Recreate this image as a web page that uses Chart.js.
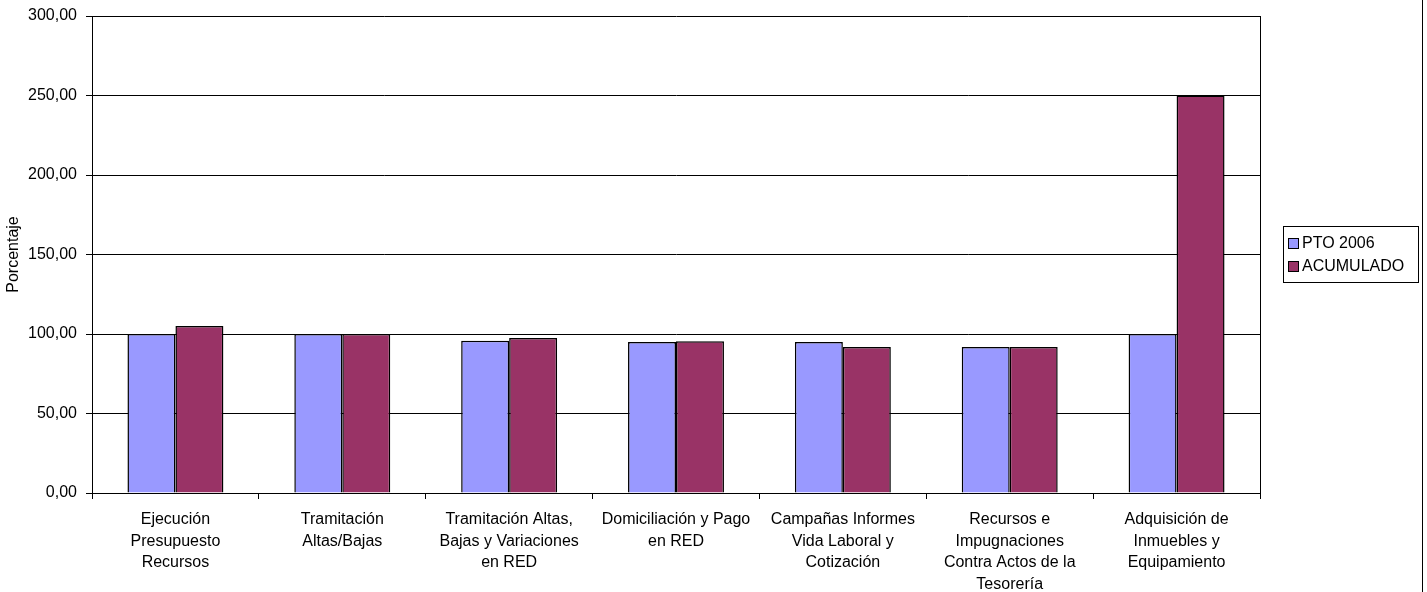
<!DOCTYPE html>
<html>
<head>
<meta charset="utf-8">
<script src="https://cdn.jsdelivr.net/npm/chart.js@4/dist/chart.umd.min.js"></script>
<style>
  html, body { margin: 0; padding: 0; background: #fff; }
  #wrap { width: 1427px; height: 592px; position: relative; }
</style>
</head>
<body>
<div id="wrap"><canvas id="barChart" width="1427" height="592"></canvas></div>
<script>
// Categorías (etiquetas del eje X, en varias líneas)
const categorias = [
    ['Ejecución', 'Presupuesto', 'Recursos'],
    ['Tramitación', 'Altas/Bajas'],
    ['Tramitación Altas,', 'Bajas y Variaciones', 'en RED'],
    ['Domiciliación y Pago', 'en RED'],
    ['Campañas Informes', 'Vida Laboral y', 'Cotización'],
    ['Recursos e', 'Impugnaciones', 'Contra Actos de la', 'Tesorería'],
    ['Adquisición de', 'Inmuebles y', 'Equipamiento']
];

// Series
const pto2006 = [100, 100, 95.8, 95.0, 95.0, 91.8, 100];
const acumulado = [105.0, 100, 97.5, 95.4, 91.8, 91.8, 250];

// Eje Y
const yMin = 0;
const yMax = 300;
const yPaso = 50;

const fuente = "'Liberation Sans', Arial, sans-serif";

// Borde del área de trazado, leyenda y borde del gráfico
const extras = {
    id: 'extras',
    afterDraw(chart) {
        const ctx = chart.ctx;
        const a = chart.chartArea;
        ctx.save();
        ctx.strokeStyle = '#000';
        ctx.lineWidth = 1;
        // borde derecho del área de trazado
        ctx.beginPath();
        ctx.moveTo(Math.round(a.right) + 0.5, a.top);
        ctx.lineTo(Math.round(a.right) + 0.5, a.bottom);
        ctx.stroke();
        // borde del gráfico a la derecha
        ctx.beginPath();
        ctx.moveTo(1422.5, 0);
        ctx.lineTo(1422.5, 592);
        ctx.stroke();

        // leyenda
        ctx.strokeRect(1283.5, 226.5, 135, 56);
        ctx.font = '16px ' + fuente;
        ctx.textBaseline = 'middle';
        chart.data.datasets.forEach((ds, i) => {
            const y = 243 + i * 23;
            ctx.fillStyle = ds.backgroundColor;
            ctx.fillRect(1288, y - 5, 10, 10);
            ctx.strokeRect(1288.5, y - 4.5, 10, 10);
            ctx.fillStyle = '#000';
            ctx.fillText(ds.label, 1302, y + 1);
        });
        ctx.restore();
    }
};

const canvas = document.getElementById('barChart');

new Chart(canvas, {
    type: 'bar',
    data: {
        labels: categorias,
        datasets: [{
            label: 'PTO 2006',
            data: pto2006,
            backgroundColor: '#9999FF',
            borderColor: '#000',
            borderWidth: 1.5
        }, {
            label: 'ACUMULADO',
            data: acumulado,
            backgroundColor: '#993366',
            borderColor: '#000',
            borderWidth: 1.5
        }]
    },
    options: {
        responsive: false,
        animation: false,
        layout: {
            padding: { top: 16, right: 167, left: 0, bottom: 0 }
        },
        datasets: {
            bar: {
                categoryPercentage: 0.575,
                barPercentage: 1.0
            }
        },
        scales: {
            x: {
                offset: true,
                grid: {
                    offset: true,
                    drawOnChartArea: false,
                    drawTicks: true,
                    tickLength: 6,
                    color: '#000'
                },
                border: { display: true, color: '#000' },
                ticks: {
                    color: '#000',
                    padding: 10,
                    maxRotation: 0,
                    autoSkip: false,
                    font: { family: fuente, size: 16, lineHeight: 1.35 }
                },
                afterFit(scale) {
                    scale.height = 99; // fondo del área en y=493
                }
            },
            y: {
                min: yMin,
                max: yMax,
                ticks: {
                    stepSize: yPaso,
                    color: '#000',
                    padding: 9,
                    font: { family: fuente, size: 16 },
                    callback: v => v.toFixed(2).replace('.', ',')
                },
                grid: {
                    color: '#000',
                    tickLength: 6,
                    lineWidth: 1
                },
                border: { display: true, color: '#000' },
                title: {
                    display: true,
                    text: 'Porcentaje',
                    color: '#000',
                    padding: 4,
                    font: { family: fuente, size: 16 }
                },
                afterFit(scale) {
                    scale.width = 92; // eje Y en x=92
                    scale.paddingTop = 0;
                    scale.paddingBottom = 0;
                }
            }
        },
        plugins: {
            legend: { display: false },
            tooltip: { enabled: false }
        }
    },
    plugins: [extras]
});
</script>
</body>
</html>
